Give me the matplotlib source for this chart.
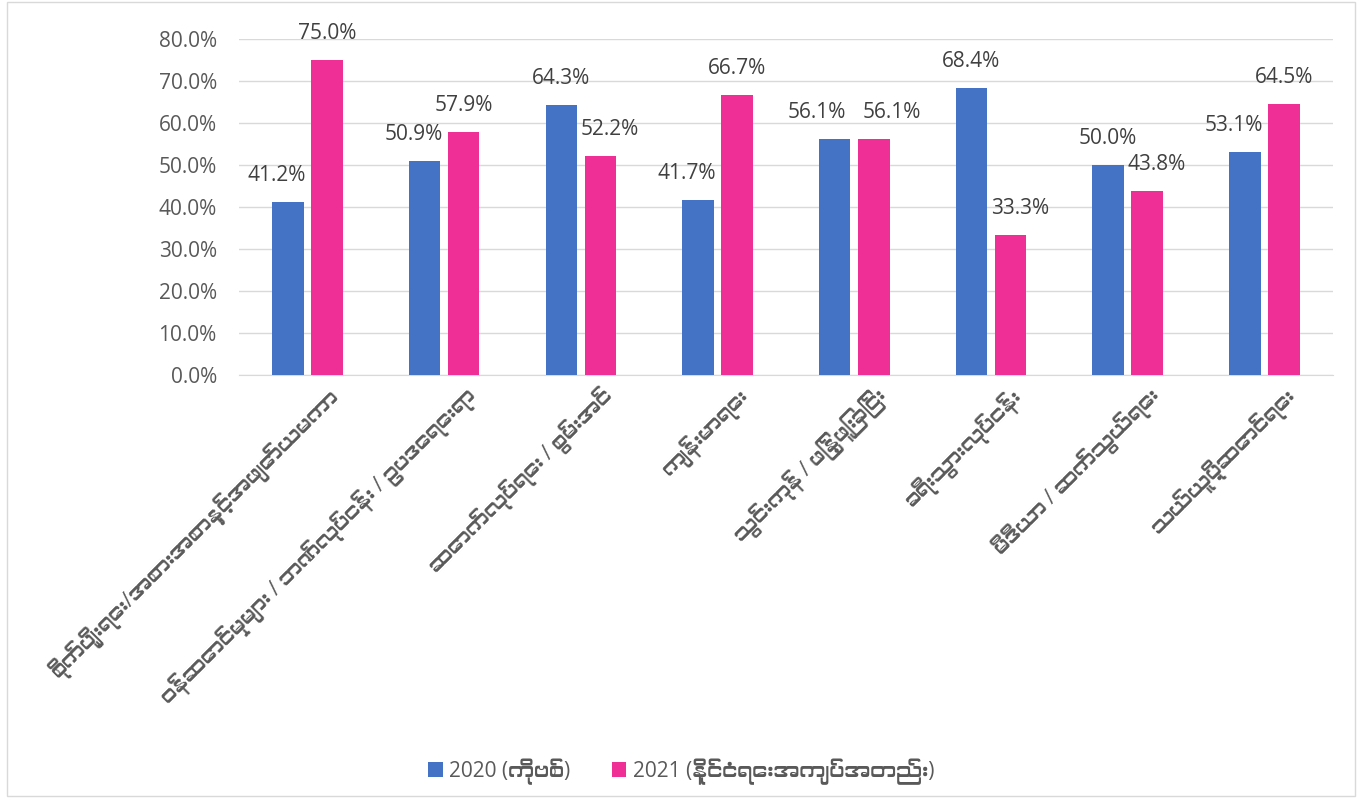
import matplotlib
matplotlib.use("Agg")
import matplotlib.pyplot as plt
import matplotlib.font_manager as fm
from matplotlib.patches import Rectangle
from matplotlib.ticker import FuncFormatter
import numpy as np

categories = [
    "စိုက်ပျိုးရေး/အစားအစာနှင့်အဖျော်ယမကာ",
    "ဝန်ဆောင်မှုများ / ဘဏ်လုပ်ငန်း / ဥပဒေရေးရာ",
    "ဆောက်လုပ်ရေး / စွမ်းအင်",
    "ကျန်းမာရေး",
    "သွင်းကုန် / ဖြန့်ဖြူးခြင်း",
    "ခရီးသွားလုပ်ငန်း",
    "မီဒီယာ / ဆက်သွယ်ရေး",
    "သယ်ယူပို့ဆောင်ရေး",
]
vals_2020 = [41.2, 50.9, 64.3, 41.7, 56.1, 68.4, 50.0, 53.1]
vals_2021 = [75.0, 57.9, 52.2, 66.7, 56.1, 33.3, 43.8, 64.5]
series_names = ["2020 (ကိုဗစ်)", "2021 (နိုင်ငံရေးအကျပ်အတည်း)"]
colors = ["#4472C4", "#F02F96"]

# look for a font that can draw Myanmar script, if any is installed
mm = [f.name for f in fm.fontManager.ttflist
      if any(k in f.name for k in ("Myanmar", "Padauk", "Pyidaungsu"))]
families = ["Open Sans"] + mm[:1] + ["DejaVu Sans"]
plt.rcParams["font.family"] = families

txt = "#595959"
fig = plt.figure(figsize=(13.62, 8.02), dpi=100)
ax = fig.add_axes([0.1755, 0.5324, 0.803, 0.4190])

x = np.arange(len(categories))
w = 0.23
off = 0.143
ax.bar(x - off, vals_2020, w, color=colors[0], label=series_names[0], zorder=3)
ax.bar(x + off, vals_2021, w, color=colors[1], label=series_names[1], zorder=3)

# labels pushed outward a little when the neighbouring bar is in the way
for i in range(len(categories)):
    a, b = vals_2020[i], vals_2021[i]
    if abs(a - b) < 4:
        da, db = -13, 13
    else:
        da = -8 if b > a else 0
        db = 7 if a > b else 0
    ax.annotate(f"{a:.1f}%", (x[i] - off, a), xytext=(da, 19), textcoords="offset points",
                ha="center", va="center", fontsize=15, color="#404040")
    ax.annotate(f"{b:.1f}%", (x[i] + off, b), xytext=(db, 19), textcoords="offset points",
                ha="center", va="center", fontsize=15, color="#404040")

ax.set_ylim(0, 80)
ax.set_xlim(-0.5, len(categories) - 0.5)
ax.set_yticks(np.arange(0, 81, 10))
ax.yaxis.set_major_formatter(FuncFormatter(lambda v, p: f"{v:.1f}%"))
ax.grid(axis="y", color="#D9D9D9", linewidth=1, zorder=0)
for s in ["left", "right", "top"]:
    ax.spines[s].set_visible(False)
ax.spines["bottom"].set_color("#D9D9D9")
ax.tick_params(axis="y", length=0, labelsize=15, labelcolor=txt, pad=16)
ax.tick_params(axis="x", length=0, labelsize=15, labelcolor=txt, pad=6)
ax.set_xticks(x + 0.14)
ax.set_xticklabels(categories, rotation=45, ha="right", va="top", rotation_mode="anchor")

leg = fig.legend(loc="center", bbox_to_anchor=(0.5, 0.038), ncol=2, frameon=False,
                 fontsize=15, handlelength=0.7, handleheight=0.7, handletextpad=0.3,
                 columnspacing=2.0)
for t in leg.get_texts():
    t.set_color(txt)

fig.patches.append(Rectangle((0.005, 0.008), 0.99, 0.99, transform=fig.transFigure,
                             fill=False, edgecolor="#D9D9D9", linewidth=1))

fig.savefig("out.png", dpi=100)
